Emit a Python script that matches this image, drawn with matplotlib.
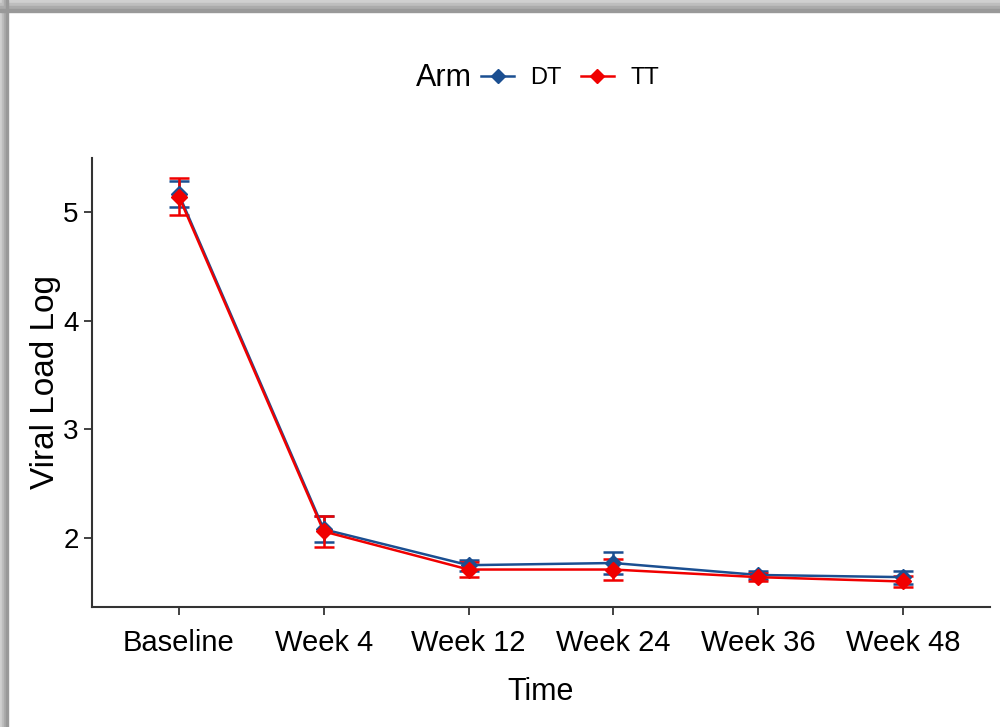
import matplotlib
matplotlib.use("Agg")

import matplotlib.pyplot as plt
from matplotlib.lines import Line2D
from matplotlib.patches import Rectangle

plt.rcParams["font.family"] = ["Liberation Sans", "DejaVu Sans"]

time_points = ["Baseline", "Week 4", "Week 12", "Week 24", "Week 36", "Week 48"]

dt_mean = [5.16, 2.08, 1.75, 1.77, 1.66, 1.64]
dt_err = [0.12, 0.12, 0.05, 0.10, 0.04, 0.06]

tt_mean = [5.14, 2.06, 1.71, 1.71, 1.64, 1.60]
tt_err = [0.17, 0.14, 0.07, 0.10, 0.04, 0.05]

arms = ["DT", "TT"]
colors = {"DT": "#1B4F91", "TT": "#F00000"}

fig = plt.figure(figsize=(10, 7.27), dpi=100)
ax = fig.add_axes([0.092, 0.165, 0.898, 0.618])

x = list(range(len(time_points)))
for arm, means, errs in [("DT", dt_mean, dt_err), ("TT", tt_mean, tt_err)]:
    ax.errorbar(x, means, yerr=errs, color=colors[arm], marker="D",
                markersize=8, linewidth=1.8, elinewidth=1.8,
                capsize=7, capthick=1.8)

ax.set_xlim(-0.6, 5.6)
ax.set_ylim(1.365, 5.497)
ax.set_xticks(x)
ax.set_xticklabels(time_points, fontsize=21)
ax.set_yticks([2, 3, 4, 5])
ax.tick_params(axis="y", labelsize=20, length=6, width=1.3, color="#333333")
ax.tick_params(axis="x", length=6, width=1.3, color="#333333", pad=10)
for side in ["top", "right"]:
    ax.spines[side].set_visible(False)
for side in ["left", "bottom"]:
    ax.spines[side].set_linewidth(1.5)
    ax.spines[side].set_color("#333333")

ax.set_xlabel("Time", fontsize=22, labelpad=14)
ax.set_ylabel("Viral Load Log", fontsize=24, labelpad=2)

# legend: title on the left, entries in one row
leg_y = 1 - 78 / 727
handles = [Line2D([], [], color=colors[a], marker="D", markersize=7,
                  linewidth=1.8) for a in arms]
fig.text(0.444, leg_y, "Arm", fontsize=22, ha="center", va="center")
fig.legend(handles, arms, loc="center left", bbox_to_anchor=(0.481, leg_y),
           ncol=2, frameon=False, fontsize=17, handlelength=1.4,
           columnspacing=0.8, handletextpad=0.7, borderpad=0,
           borderaxespad=0)

# grey shaded frame along the top and left edges
for i, g in enumerate(["#d0d0d0", "#bebebe", "#ababab", "#999999"]):
    fig.patches.append(Rectangle((0, 1 - 3 * (i + 1) / 727), 1, 3 / 727,
                                 transform=fig.transFigure, color=g, zorder=-1))
    fig.patches.append(Rectangle((2 * i / 1000, 0), 2 / 1000, 1,
                                 transform=fig.transFigure, color=g, zorder=-1))

fig.savefig("out.png", dpi=100)
